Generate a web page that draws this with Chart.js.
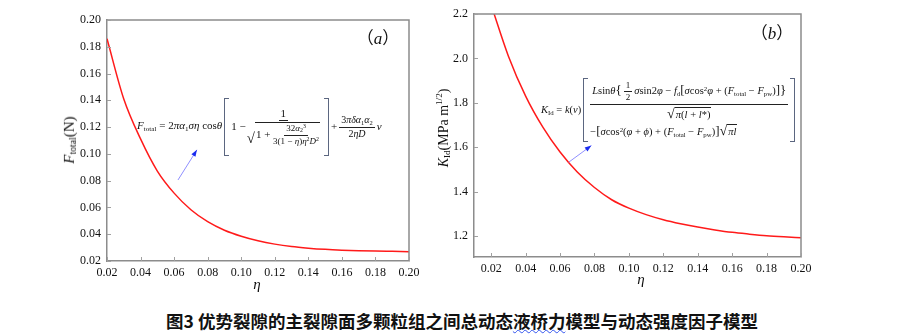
<!DOCTYPE html>
<html>
<head>
<meta charset="utf-8">
<script src="https://cdn.jsdelivr.net/npm/chart.js@4.4.1/dist/chart.umd.min.js"></script>
<style>
body { margin: 0; background: #fff; width: 905px; height: 334px; position: relative; overflow: hidden; }
canvas { position: absolute; top: 0; }
#cA { left: 0; }
#cB { left: 440px; }
.t { position: absolute; font-family: 'Liberation Serif', 'Times New Roman', Times, serif; color: #111; white-space: nowrap; line-height: 1; }
.rot { transform: translate(-50%, -50%) rotate(-90deg); }
.sb { font-size: 0.65em; vertical-align: -0.25em; }
.cjk { font-family: 'Noto Sans CJK SC', sans-serif; font-style: normal; }
.eq { position: absolute; font-family: 'Liberation Serif', 'Times New Roman', Times, serif; font-size: 11px; color: #111; display: flex; align-items: center; white-space: nowrap; line-height: 1.05; }
.eq sup { font-size: 0.65em; vertical-align: 0.45em; line-height: 0; }
.fr { display: inline-flex; flex-direction: column; align-items: center; margin: 0 2px; vertical-align: middle; }
.fr > span:first-child { border-bottom: 1px solid #222; padding: 0 2px 1px; }
.fr > span + span { padding-top: 1px; }
.sm { font-size: 10px; }
.xs { font-size: 9px; }
.rt { display: inline-flex; align-items: flex-end; }
.rs { font-size: 1.35em; line-height: 1; }
.ro { border-top: 1px solid #222; padding: 1px 1px 0; }
.bkL, .bkR { display: inline-block; width: 4px; border: 1.4px solid #5b6680; }
.bkL { border-right: none; margin: 0 2px 0 2px; }
.bkR { border-left: none; margin: 0 2px 0 2px; }
.col { display: inline-flex; flex-direction: column; align-items: flex-start; }
.big { font-size: 13px; line-height: 1; }
#cap { left: 462px; top: 321px; transform: translate(-50%, -50%); font-family: 'Noto Sans CJK SC', sans-serif; font-weight: 700; font-size: 17.5px; }
.wv { text-decoration: underline wavy #3355ee; text-decoration-thickness: 1px; text-underline-offset: 1px; }
</style>
</head>
<body>
<canvas id="cA" width="430" height="300"></canvas>
<canvas id="cB" width="380" height="300"></canvas>

<div class="t rot" style="left:70px;top:140px;font-size:15px"><i>F</i><span class="sb">total</span>(N)</div>
<div class="t rot" style="left:444px;top:128px;font-size:14px"><i>K</i><span class="sb">Id</span>(MPa m<sup style="font-size:0.65em">1/2</sup>)</div>
<div class="t" style="left:257px;top:284px;transform:translate(-50%,-50%);font-size:15px"><i>η</i></div>
<div class="t" style="left:641px;top:279px;transform:translate(-50%,-50%);font-size:15px"><i>η</i></div>
<div class="t" style="left:378px;top:37px;transform:translate(-50%,-50%);font-size:17px"><span class="cjk">（</span><i>a</i><span class="cjk">）</span></div>
<div class="t" style="left:772px;top:32px;transform:translate(-50%,-50%);font-size:17px"><span class="cjk">（</span><i>b</i><span class="cjk">）</span></div>

<div class="eq" style="left:137px;top:97px;height:60px">
  <span><i>F</i><span class="sb">total</span> = 2<i>πα</i><span class="sb">1</span><i>ση</i> cos<i>θ</i></span>
  <span class="bkL" style="height:56px"></span>
  <span>1 −</span>
  <span class="fr" style="margin-left:1px"><span>1</span><span class="rt"><span class="rs">√</span><span class="ro">1 + <span class="fr xs" style="margin:0"><span>32<i>α</i><span class="sb">2</span><sup>3</sup></span><span>3(1 − <i>η</i>)<i>η</i><sup>2</sup><i>D</i><sup>2</sup></span></span></span></span></span>
  <span class="bkR" style="height:56px"></span>
  <span>+</span>
  <span class="fr sm"><span>3<i>πδα</i><span class="sb">1</span><i>α</i><span class="sb">2</span></span><span>2<i>ηD</i></span></span>
  <span><i>v</i></span>
</div>

<div class="eq" style="left:541px;top:77px;height:65px;font-size:10.5px">
  <span><i>K</i><span class="sb">Id</span> = <i>k</i>(<i>v</i>)</span>
  <span class="bkL" style="height:62px"></span>
  <span class="col">
    <span class="fr" style="margin:0"><span><i>L</i>sin<i>θ</i><span class="big">{</span><span class="fr xs"><span>1</span><span>2</span></span><i>σ</i>sin2<i>φ</i> − <i>f</i><span class="sb">d</span><span class="big">[</span><i>σ</i>cos<sup>2</sup><i>φ</i> + (<i>F</i><span class="sb">total</span> − <i>F</i><span class="sb">pw</span>)<span class="big">]</span><span class="big">}</span></span><span><span class="rt"><span class="rs">√</span><span class="ro"><i>π</i>(<i>l</i> + <i>l</i>*)</span></span></span></span>
    <span style="margin-top:3px">−<span class="big">[</span><i>σ</i>cos<sup>2</sup>(<i>φ</i> + <i>ϕ</i>) + (<i>F</i><span class="sb">total</span> − <i>F</i><span class="sb">pw</span>)<span class="big">]</span><span class="rt"><span class="rs">√</span><span class="ro"><i>πl</i></span></span></span>
  </span>
  <span class="bkR" style="height:62px"></span>
</div>

<div class="t" id="cap">图3 优势裂隙的主裂隙面多颗粒组之间总动态<span class="wv">液桥力</span>模型与动态强度因子模型</div>

<script>
// 数据
const eta = [0.02, 0.03, 0.04, 0.05, 0.06, 0.07, 0.08, 0.09, 0.10, 0.11,
             0.12, 0.13, 0.14, 0.15, 0.16, 0.17, 0.18, 0.19, 0.20];
const fTotal = [0.186, 0.141, 0.1112, 0.0872, 0.0707, 0.0583, 0.0494, 0.0430, 0.0385, 0.0351,
                0.0326, 0.0308, 0.0296, 0.0287, 0.0281, 0.0277, 0.0274, 0.0272, 0.0270];
const kId = [2.24, 2.01, 1.83, 1.69, 1.578, 1.488, 1.418, 1.363, 1.325, 1.296,
             1.273, 1.255, 1.240, 1.227, 1.216, 1.208, 1.201, 1.196, 1.192];
const xTicks = [0.02, 0.04, 0.06, 0.08, 0.10, 0.12, 0.14, 0.16, 0.18, 0.20];
const yTicksA = [0.02, 0.04, 0.06, 0.08, 0.10, 0.12, 0.14, 0.16, 0.18, 0.20];
const yTicksB = [1.2, 1.4, 1.6, 1.8, 2.0, 2.2];

// 箭头（数据坐标）
const arrowA = { from: [0.0623, 0.0805], to: [0.0736, 0.103] };
const arrowB = { from: [0.065, 1.532], to: [0.0782, 1.607] };

const axisColor = '#8c8c8c';
const tickFont = { family: "'Liberation Serif', 'Times New Roman', Times, serif", size: 12 };

// 边框 + 内向刻度
const framePlugin = {
    id: 'frame',
    afterDraw(chart) {
        const { ctx, chartArea: a, scales } = chart;
        ctx.save();
        ctx.strokeStyle = axisColor;
        ctx.lineWidth = 1.5;
        ctx.beginPath();
        ctx.moveTo(a.left, a.top); ctx.lineTo(a.right, a.top); ctx.lineTo(a.right, a.bottom);
        ctx.stroke();
        ctx.strokeStyle = '#a0a0a0';
        ctx.lineWidth = 1;
        ctx.beginPath();
        scales.x.ticks.forEach(t => {
            const px = Math.round(scales.x.getPixelForValue(t.value)) + 0.5;
            ctx.moveTo(px, a.bottom); ctx.lineTo(px, a.bottom - 4);
        });
        scales.y.ticks.forEach(t => {
            const py = Math.round(scales.y.getPixelForValue(t.value)) + 0.5;
            ctx.moveTo(a.left, py); ctx.lineTo(a.left + 4, py);
        });
        ctx.stroke();
        ctx.restore();
    }
};

const arrowPlugin = {
    id: 'arrow',
    afterDraw(chart, args, opts) {
        const { ctx, scales } = chart;
        const x1 = scales.x.getPixelForValue(opts.from[0]), y1 = scales.y.getPixelForValue(opts.from[1]);
        const x2 = scales.x.getPixelForValue(opts.to[0]), y2 = scales.y.getPixelForValue(opts.to[1]);
        const ang = Math.atan2(y2 - y1, x2 - x1);
        ctx.save();
        ctx.strokeStyle = '#8f8fff';
        ctx.lineWidth = 1;
        ctx.beginPath(); ctx.moveTo(x1, y1); ctx.lineTo(x2, y2); ctx.stroke();
        ctx.fillStyle = '#1a2cf0';
        ctx.beginPath();
        ctx.moveTo(x2, y2);
        ctx.lineTo(x2 - 7 * Math.cos(ang - 0.35), y2 - 7 * Math.sin(ang - 0.35));
        ctx.lineTo(x2 - 7 * Math.cos(ang + 0.35), y2 - 7 * Math.sin(ang + 0.35));
        ctx.closePath(); ctx.fill();
        ctx.restore();
    }
};

function makeChart(id, ys, xMin, yMin, yMax, yTicks, yDec, yWidth, xHeight, pad, arrow) {
    return new Chart(document.getElementById(id), {
        type: 'line',
        data: {
            datasets: [{
                data: eta.map((x, i) => ({ x: x, y: ys[i] })),
                borderColor: '#ff1a1a',
                borderWidth: 1.5,
                pointRadius: 0,
                cubicInterpolationMode: 'monotone',
                fill: false
            }]
        },
        options: {
            responsive: false,
            animation: false,
            events: [],
            layout: { padding: pad },
            plugins: { legend: { display: false }, tooltip: { enabled: false }, arrow: arrow },
            scales: {
                x: {
                    type: 'linear', min: xMin, max: 0.20,
                    afterBuildTicks: s => { s.ticks = xTicks.map(v => ({ value: v })); },
                    afterFit: s => { s.height = xHeight; },
                    grid: { display: false, drawTicks: false },
                    border: { color: axisColor, width: 1.5 },
                    ticks: { padding: 5, font: tickFont, color: '#111', maxRotation: 0, autoSkip: false,
                             callback: v => Number(v).toFixed(2) }
                },
                y: {
                    type: 'linear', min: yMin, max: yMax,
                    afterBuildTicks: s => { s.ticks = yTicks.map(v => ({ value: v })); },
                    afterFit: s => { s.width = yWidth; },
                    grid: { display: false, drawTicks: false },
                    border: { color: axisColor, width: 1.5 },
                    ticks: { padding: 6, font: tickFont, color: '#111', autoSkip: false,
                             callback: v => Number(v).toFixed(yDec) }
                }
            }
        },
        plugins: [framePlugin, arrowPlugin]
    });
}

makeChart('cA', fTotal, 0.02, 0.02, 0.20, yTicksA, 2, 107, 39, { top: 20, right: 21, left: 0, bottom: 0 }, arrowA);
makeChart('cB', kId, 0.01, 1.105, 2.2, yTicksB, 1, 34, 43, { top: 14, right: 19, left: 0, bottom: 0 }, arrowB);
</script>
</body>
</html>
